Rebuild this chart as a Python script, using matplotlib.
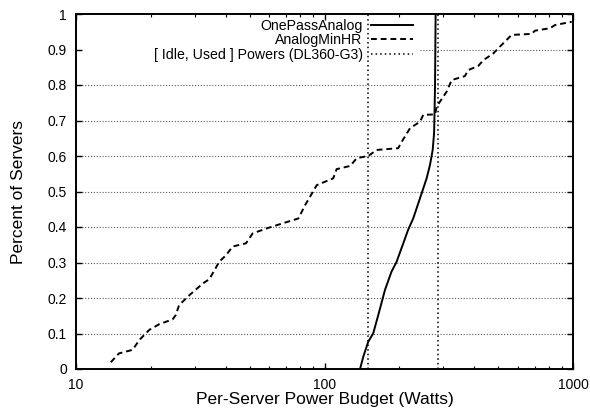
import matplotlib
matplotlib.use("Agg")
import matplotlib.pyplot as plt
import numpy as np
from matplotlib.ticker import LogLocator, NullFormatter, FixedLocator, FixedFormatter

plt.rcParams['font.family'] = ['Liberation Sans', 'DejaVu Sans']

# AnalogMinHR CDF (Watts, fraction)
minhr_x = [13.8, 14.9, 16.9, 18.0, 19.7, 21.6, 24.5, 25.2, 26.0, 28.6, 32.4, 34.4,
           37.7, 40.2, 42.7, 48.3, 51.4, 58.5, 66.2, 78.5, 83.6, 93.1, 108.4, 111.9,
           126.8, 134.9, 150, 162, 198, 204.5, 220.8, 242.3, 249.8, 278.6, 282.7,
           300.5, 310, 325, 367, 379, 416, 436, 478, 508, 532, 566, 682, 703, 808,
           847, 988]
minhr_y = [0.019, 0.044, 0.054, 0.082, 0.11, 0.126, 0.14, 0.152, 0.18, 0.208, 0.241,
           0.253, 0.302, 0.321, 0.345, 0.354, 0.382, 0.396, 0.408, 0.424, 0.462, 0.518,
           0.537, 0.563, 0.572, 0.594, 0.60, 0.617, 0.622, 0.640, 0.678, 0.697, 0.716,
           0.717, 0.739, 0.767, 0.781, 0.814, 0.825, 0.842, 0.854, 0.870, 0.889, 0.908,
           0.922, 0.941, 0.944, 0.953, 0.960, 0.969, 0.978]

# OnePassAnalog CDF
onepass_x = [139, 143.3, 150, 157, 164.6, 175, 186, 195, 207.5, 217, 227.5, 246,
             257.6, 265.8, 272.5, 276, 277, 278.5, 280]
onepass_y = [0.0, 0.035, 0.077, 0.10, 0.152, 0.222, 0.274, 0.302, 0.354, 0.392, 0.424,
             0.495, 0.537, 0.575, 0.617, 0.664, 0.711, 0.80, 1.0]

# [Idle, Used] powers (DL360-G3)
power_lines = [150, 285]

y_ticks = [0, 0.1, 0.2, 0.3, 0.4, 0.5, 0.6, 0.7, 0.8, 0.9, 1]
y_labels = ['0', '0.1', '0.2', '0.3', '0.4', '0.5', '0.6', '0.7', '0.8', '0.9', '1']
x_ticks = [10, 100, 1000]
x_labels = ['10', '100', '1000']

fig = plt.figure(figsize=(5.9, 4.16), dpi=100)
ax = fig.add_axes([76/590, 47/416, 497/590, 355/416])
ax.set_xscale('log')
ax.set_xlim(10, 1000)
ax.set_ylim(0, 1)

# horizontal grid (0.9 line partially hidden by key)
for yv in y_ticks[1:-1]:
    xmin = (420 - 76) / 497 if abs(yv - 0.9) < 1e-9 else 0
    ax.axhline(yv, xmin=xmin, xmax=1, color='0.35', lw=0.8, ls=(0, (1, 1.6)), zorder=1)

l1, = ax.plot(onepass_x, onepass_y, color='black', lw=1.4, label='OnePassAnalog', zorder=3)
l2, = ax.plot(minhr_x, minhr_y, color='black', lw=1.4, ls=(0, (3, 2)), label='AnalogMinHR', zorder=3)
l3 = None
for i, pv in enumerate(power_lines):
    ln = ax.axvline(pv, color='black', lw=1.1, ls=(0, (1, 2)), zorder=2,
                    label='[ Idle, Used ] Powers (DL360-G3)' if i == 0 else None)
    if i == 0:
        l3 = ln

leg = ax.legend(handles=[l1, l2, l3], loc='upper right',
                bbox_to_anchor=((413 - 76) / 497, (369 - 19) / 355),
                markerfirst=False, frameon=False, fontsize=10.2,
                handlelength=2.95, handletextpad=0.6, labelspacing=0.02,
                borderpad=0, borderaxespad=0)

ax.yaxis.set_major_locator(FixedLocator(y_ticks))
ax.yaxis.set_major_formatter(FixedFormatter(y_labels))
ax.xaxis.set_major_locator(FixedLocator(x_ticks))
ax.xaxis.set_major_formatter(FixedFormatter(x_labels))
ax.xaxis.set_minor_locator(LogLocator(base=10, subs=np.arange(2, 10)))
ax.xaxis.set_minor_formatter(NullFormatter())

ax.tick_params(axis='both', which='both', direction='in', top=True, right=True, colors='black')
ax.tick_params(axis='x', which='major', length=4.5, width=1.0, pad=6.5, labelsize=10)
ax.tick_params(axis='x', which='minor', length=2.3, width=0.8)
ax.tick_params(axis='y', which='major', length=4.5, width=1.0, pad=6.5, labelsize=10)

for s in ax.spines.values():
    s.set_linewidth(1.4)

ax.set_xlabel('Per-Server Power Budget (Watts)', fontsize=12.5)
ax.set_ylabel('Percent of Servers', fontsize=12.5)
ax.xaxis.set_label_coords(0.5, -0.064)
ax.yaxis.set_label_coords(-0.10, 0.5)

fig.savefig('out.png', dpi=100)
